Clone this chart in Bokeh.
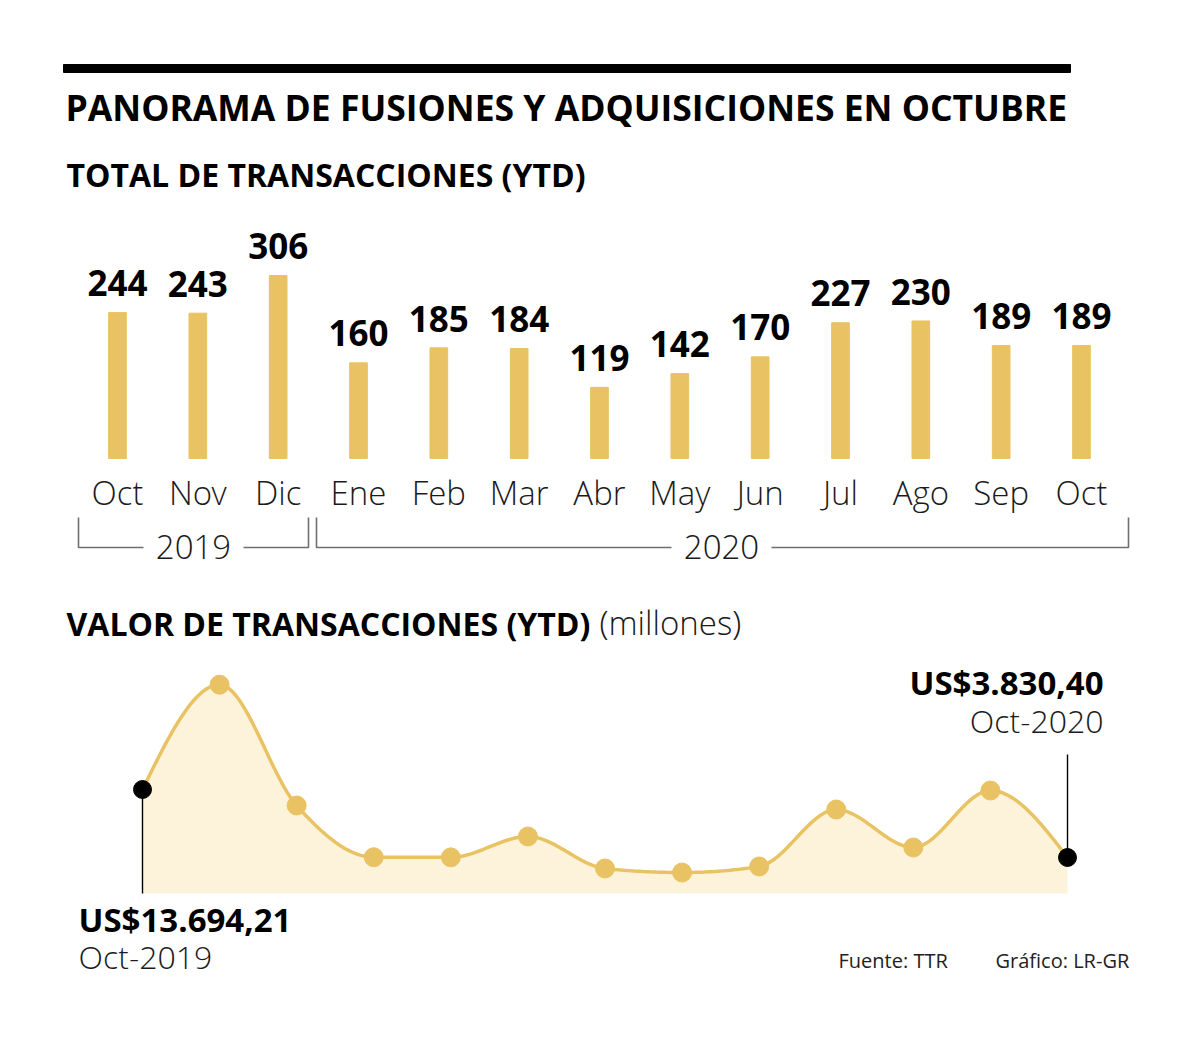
from bokeh.plotting import figure
from bokeh.models import Range1d, ColumnDataSource
from bokeh.core.properties import value
from bokeh.embed import file_html
from bokeh.resources import INLINE

# ---------------- data ----------------
months = ["Oct", "Nov", "Dic", "Ene", "Feb", "Mar", "Abr", "May", "Jun", "Jul", "Ago", "Sep", "Oct"]
transacciones = [244, 243, 306, 160, 185, 184, 119, 142, 170, 227, 230, 189, 189]
years = ["2019", "2020"]
# valor de transacciones (millones US$)
valor = [13694.21, 28900, 11370, 3870, 3850, 6880, 2240, 1650, 2530, 10790, 5280, 13550, 3830.40]
first_label = ["US$13.694,21", "Oct-2019"]
last_label = ["US$3.830,40", "Oct-2020"]

title = "PANORAMA DE FUSIONES Y ADQUISICIONES EN OCTUBRE"
sub1 = "TOTAL DE TRANSACCIONES (YTD)"
sub2 = "VALOR DE TRANSACCIONES (YTD)"
sub2_unit = "(millones)"
fuente = "Fuente: TTR"
grafico = "Gráfico: LR-GR"

# ---------------- styles ----------------
GOLD = "#E9C363"
CREAM = "#FDF3DB"
GREY = "#6f6f6f"
INK = "#1a1a1a"
BOLD = value("Open Sans")
LIGHT = value("Open Sans Light")
REG = value("Open Sans")

W, H = 1184, 1023
PX0, PX1 = 0, W        # page x of frame edges (as photographed)
PY_BOT, PY_TOP = H, 0  # page y of frame bottom / top
BASE_SHIFT = 0.41      # alphabetic-baseline correction, in em


def bl(y, fs):
    """y position giving an alphabetic baseline at page y for font size fs."""
    return y - BASE_SHIFT * fs


def lin_range(a, pa, b, pb, p_start, p_end):
    k = (b - a) / (pb - pa)
    return Range1d(start=a + (p_start - pa) * k, end=a + (p_end - pa) * k)


def val_at(a, pa, b, pb, p):
    return a + (p - pa) * (b - a) / (pb - pa)


p = figure(width=W, height=H, output_backend="svg", toolbar_location=None,
           x_axis_type=None, y_axis_type=None, min_border=0,
           x_range=Range1d(PX0, PX1), y_range=Range1d(PY_BOT, PY_TOP))
p.outline_line_color = None
p.background_fill_color = "white"
p.border_fill_color = "white"

# ranges for the bar chart (index -> page px, value -> page px)
n = len(months)
p.extra_x_ranges["bars"] = lin_range(0, 117, n - 1, 1081, PX0, PX1)
p.extra_y_ranges["bars"] = lin_range(0, 458, 306, 275, PY_BOT, PY_TOP)
# ranges for the value curve
p.extra_x_ranges["val"] = lin_range(0, 142, n - 1, 1067, PX0, PX1)
p.extra_y_ranges["val"] = lin_range(valor[-1], 857, valor[0], 789, PY_BOT, PY_TOP)

# ---- header ----
p.quad(left=[63], right=[1070], top=[64], bottom=[72], color="black")
p.text(x=[65], y=[bl(121, 35.5)], text=[title], text_font=BOLD, text_font_style="bold",
       text_font_size="35.5px", text_color="black", text_baseline="alphabetic")
p.text(x=[66], y=[bl(187, 32)], text=[sub1], text_font=BOLD, text_font_style="bold",
       text_font_size="32px", text_color="black", text_baseline="alphabetic")

# ---- bars ----
idx = list(range(n))
src = ColumnDataSource(dict(x=idx, top=transacciones, m=months,
                            lab=[str(v) for v in transacciones]))
p.vbar(x="x", top="top", bottom=0, width=0.22, source=src, color=GOLD,
       x_range_name="bars", y_range_name="bars")
p.text(x="x", y="top", text="lab", source=src, y_offset=-15 - BASE_SHIFT * 35,
       text_font=BOLD, text_font_style="bold", text_font_size="35px",
       text_align="center", text_baseline="alphabetic", text_color="black",
       x_range_name="bars", y_range_name="bars")
p.text(x="x", y=0, text="m", source=src, y_offset=48 - BASE_SHIFT * 33,
       text_font=LIGHT, text_font_size="33px", text_align="center",
       text_baseline="alphabetic", text_color=INK,
       x_range_name="bars", y_range_name="bars")

# year brackets
p.multi_line(xs=[[78, 78, 143], [243, 308, 308], [316, 316, 671], [771, 1128, 1128]],
             ys=[[517, 547, 547], [547, 547, 517], [517, 547, 547], [547, 547, 517]],
             line_color=GREY, line_width=1.6)
p.text(x=[193, 721], y=[bl(560, 33)] * 2, text=years, text_font=LIGHT, text_font_size="33px",
       text_align="center", text_baseline="alphabetic", text_color=INK)

# ---- value section ----
p.text(x=[66], y=[bl(636, 32)], text=[sub2], text_font=BOLD, text_font_style="bold",
       text_font_size="32px", text_color="black", text_baseline="alphabetic")
p.text(x=[599], y=[bl(636, 33)], text=[sub2_unit], text_font=LIGHT,
       text_font_size="33px", text_color=INK, text_baseline="alphabetic")


def monotone_curve(xs, ys, steps=24):
    """d3 curveMonotoneX rendering of the series (for drawing only)."""
    m = len(xs)
    h = [xs[i + 1] - xs[i] for i in range(m - 1)]
    s = [(ys[i + 1] - ys[i]) / h[i] for i in range(m - 1)]

    def sgn(v):
        return (v > 0) - (v < 0)

    t = [0.0] * m
    for i in range(1, m - 1):
        h0, h1, s0, s1 = h[i - 1], h[i], s[i - 1], s[i]
        pp = (s0 * h1 + s1 * h0) / (h0 + h1)
        t[i] = (sgn(s0) + sgn(s1)) * min(abs(s0), abs(s1), 0.5 * abs(pp)) or 0.0
    t[0] = (3 * s[0] - t[1]) / 2
    t[-1] = (3 * s[-1] - t[-2]) / 2
    cx, cy = [xs[0]], [ys[0]]
    for i in range(m - 1):
        x0, y0, x1, y1 = xs[i], ys[i], xs[i + 1], ys[i + 1]
        d = h[i] / 3
        c1 = (x0 + d, y0 + d * t[i])
        c2 = (x1 - d, y1 - d * t[i + 1])
        for k in range(1, steps + 1):
            u = k / steps
            a, b, c, e = (1 - u) ** 3, 3 * (1 - u) ** 2 * u, 3 * (1 - u) * u ** 2, u ** 3
            cx.append(a * x0 + b * c1[0] + c * c2[0] + e * x1)
            cy.append(a * y0 + b * c1[1] + c * c2[1] + e * y1)
    return cx, cy


cx, cy = monotone_curve(idx, valor)
base = val_at(valor[-1], 857, valor[0], 789, 893)
leader_top = val_at(valor[-1], 857, valor[0], 789, 754)

p.varea(x=cx, y1=[base] * len(cx), y2=cy, fill_color=CREAM,
        x_range_name="val", y_range_name="val")
p.line(x=cx, y=cy, line_color=GOLD, line_width=3.5,
       x_range_name="val", y_range_name="val")
p.segment(x0=[0, n - 1], y0=[valor[0], valor[-1]], x1=[0, n - 1], y1=[base, leader_top],
          line_color="black", line_width=1.4, x_range_name="val", y_range_name="val")
p.scatter(x=idx[1:-1], y=valor[1:-1], size=19, color=GOLD,
          x_range_name="val", y_range_name="val")
p.scatter(x=[0, n - 1], y=[valor[0], valor[-1]], size=18, color="black",
          x_range_name="val", y_range_name="val")

# annotations
p.text(x=[78], y=[bl(933, 33)], text=[first_label[0]], text_font=BOLD, text_font_style="bold",
       text_font_size="33px", text_color="black", text_baseline="alphabetic")
p.text(x=[78], y=[bl(969, 32)], text=[first_label[1]], text_font=LIGHT,
       text_font_size="32px", text_color=INK, text_baseline="alphabetic")
p.text(x=[1103], y=[bl(696, 33)], text=[last_label[0]], text_font=BOLD, text_font_style="bold",
       text_font_size="33px", text_color="black", text_baseline="alphabetic",
       text_align="right")
p.text(x=[1103], y=[bl(733, 32)], text=[last_label[1]], text_font=LIGHT,
       text_font_size="32px", text_color=INK, text_baseline="alphabetic",
       text_align="right")

# footer
p.text(x=[838, 995], y=[bl(968, 20)] * 2, text=[fuente, grafico], text_font=REG,
       text_font_size="20px", text_color="#222222", text_baseline="alphabetic")

open("out.html", "w").write(file_html(p, INLINE))
